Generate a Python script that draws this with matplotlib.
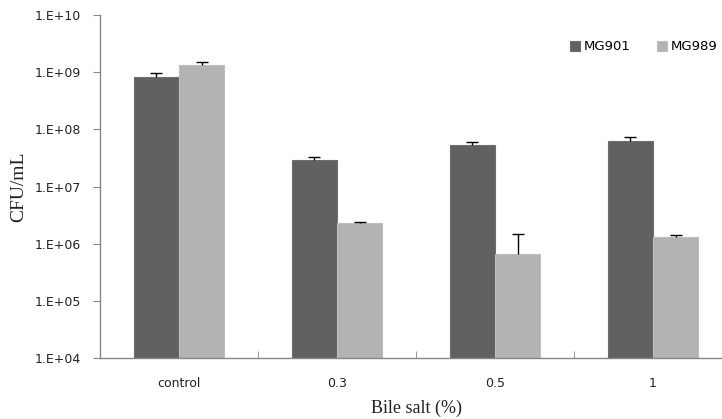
import numpy as np
import matplotlib
matplotlib.use('Agg')
import matplotlib.pyplot as plt
from matplotlib.ticker import FixedLocator, NullLocator

categories = ['control', '0.3', '0.5', '1']
series = ['MG901', 'MG989']
mg901 = [8.3e8, 2.9e7, 5.4e7, 6.3e7]
mg901_err = [1.3e8, 4.0e6, 7.0e6, 9.0e6]
mg989 = [1.32e9, 2.3e6, 6.6e5, 1.3e6]
mg989_err = [1.8e8, 1.0e5, 8.4e5, 1.2e5]
yticks = [1e4, 1e5, 1e6, 1e7, 1e8, 1e9, 1e10]
ytick_labels = ['1.E+04', '1.E+05', '1.E+06', '1.E+07', '1.E+08', '1.E+09', '1.E+10']

colors = ['#616161', '#b3b3b3']
edges = ['#6e6e6e', '#bdbdbd']

fig = plt.figure(figsize=(7.22, 4.19), dpi=100)
ax = fig.add_axes([100/722, 61/419, 632/722, 343/419])

x = np.arange(len(categories))
w = 0.285
vals = [mg901, mg989]
errs = [mg901_err, mg989_err]
for i in range(2):
    pos = x + (i - 0.5) * w
    ax.bar(pos, vals[i], width=w, color=colors[i], edgecolor=edges[i], linewidth=0.8,
           label=series[i], zorder=2)
    eb = ax.errorbar(pos, vals[i], yerr=[np.zeros(len(categories)), errs[i]], fmt='none',
                     ecolor='black', elinewidth=1, capsize=4, capthick=1, zorder=3)
    # only the upper cap, like the original
    eb[1][0].set_visible(False)

ax.set_yscale('log')
ax.set_ylim(1e4, 1e10)
ax.set_xlim(-0.5, len(categories) - 0.5)
ax.yaxis.set_major_locator(FixedLocator(yticks))
ax.yaxis.set_minor_locator(NullLocator())
ax.set_yticklabels(ytick_labels)
ax.set_xticks(x)
ax.set_xticklabels(categories)
ax.xaxis.set_minor_locator(FixedLocator(np.arange(-0.5, len(categories), 1.0)))

for s in ['top', 'right']:
    ax.spines[s].set_visible(False)
for s in ['left', 'bottom']:
    ax.spines[s].set_color('#868686')
    ax.spines[s].set_linewidth(1)

ax.tick_params(axis='y', which='major', direction='out', length=5, color='#868686',
               labelsize=9, pad=9, labelcolor='#222222')
ax.tick_params(axis='x', which='major', length=0, labelsize=9, pad=14, labelcolor='#222222')
ax.tick_params(axis='x', which='minor', direction='in', length=5, color='#868686')

ax.set_xlabel('Bile salt (%)', family='Liberation Serif', fontsize=13, labelpad=7, color='#222222')
ax.set_ylabel('CFU/mL', family='Liberation Serif', fontsize=14, labelpad=5, color='#222222')

ax.legend(loc='upper right', bbox_to_anchor=(0.985, 0.942), ncol=2, frameon=False,
          fontsize=9.5, handlelength=0.8, handleheight=0.8, handletextpad=0.25,
          columnspacing=2.0, borderaxespad=0)

fig.savefig('out.png', dpi=100)
